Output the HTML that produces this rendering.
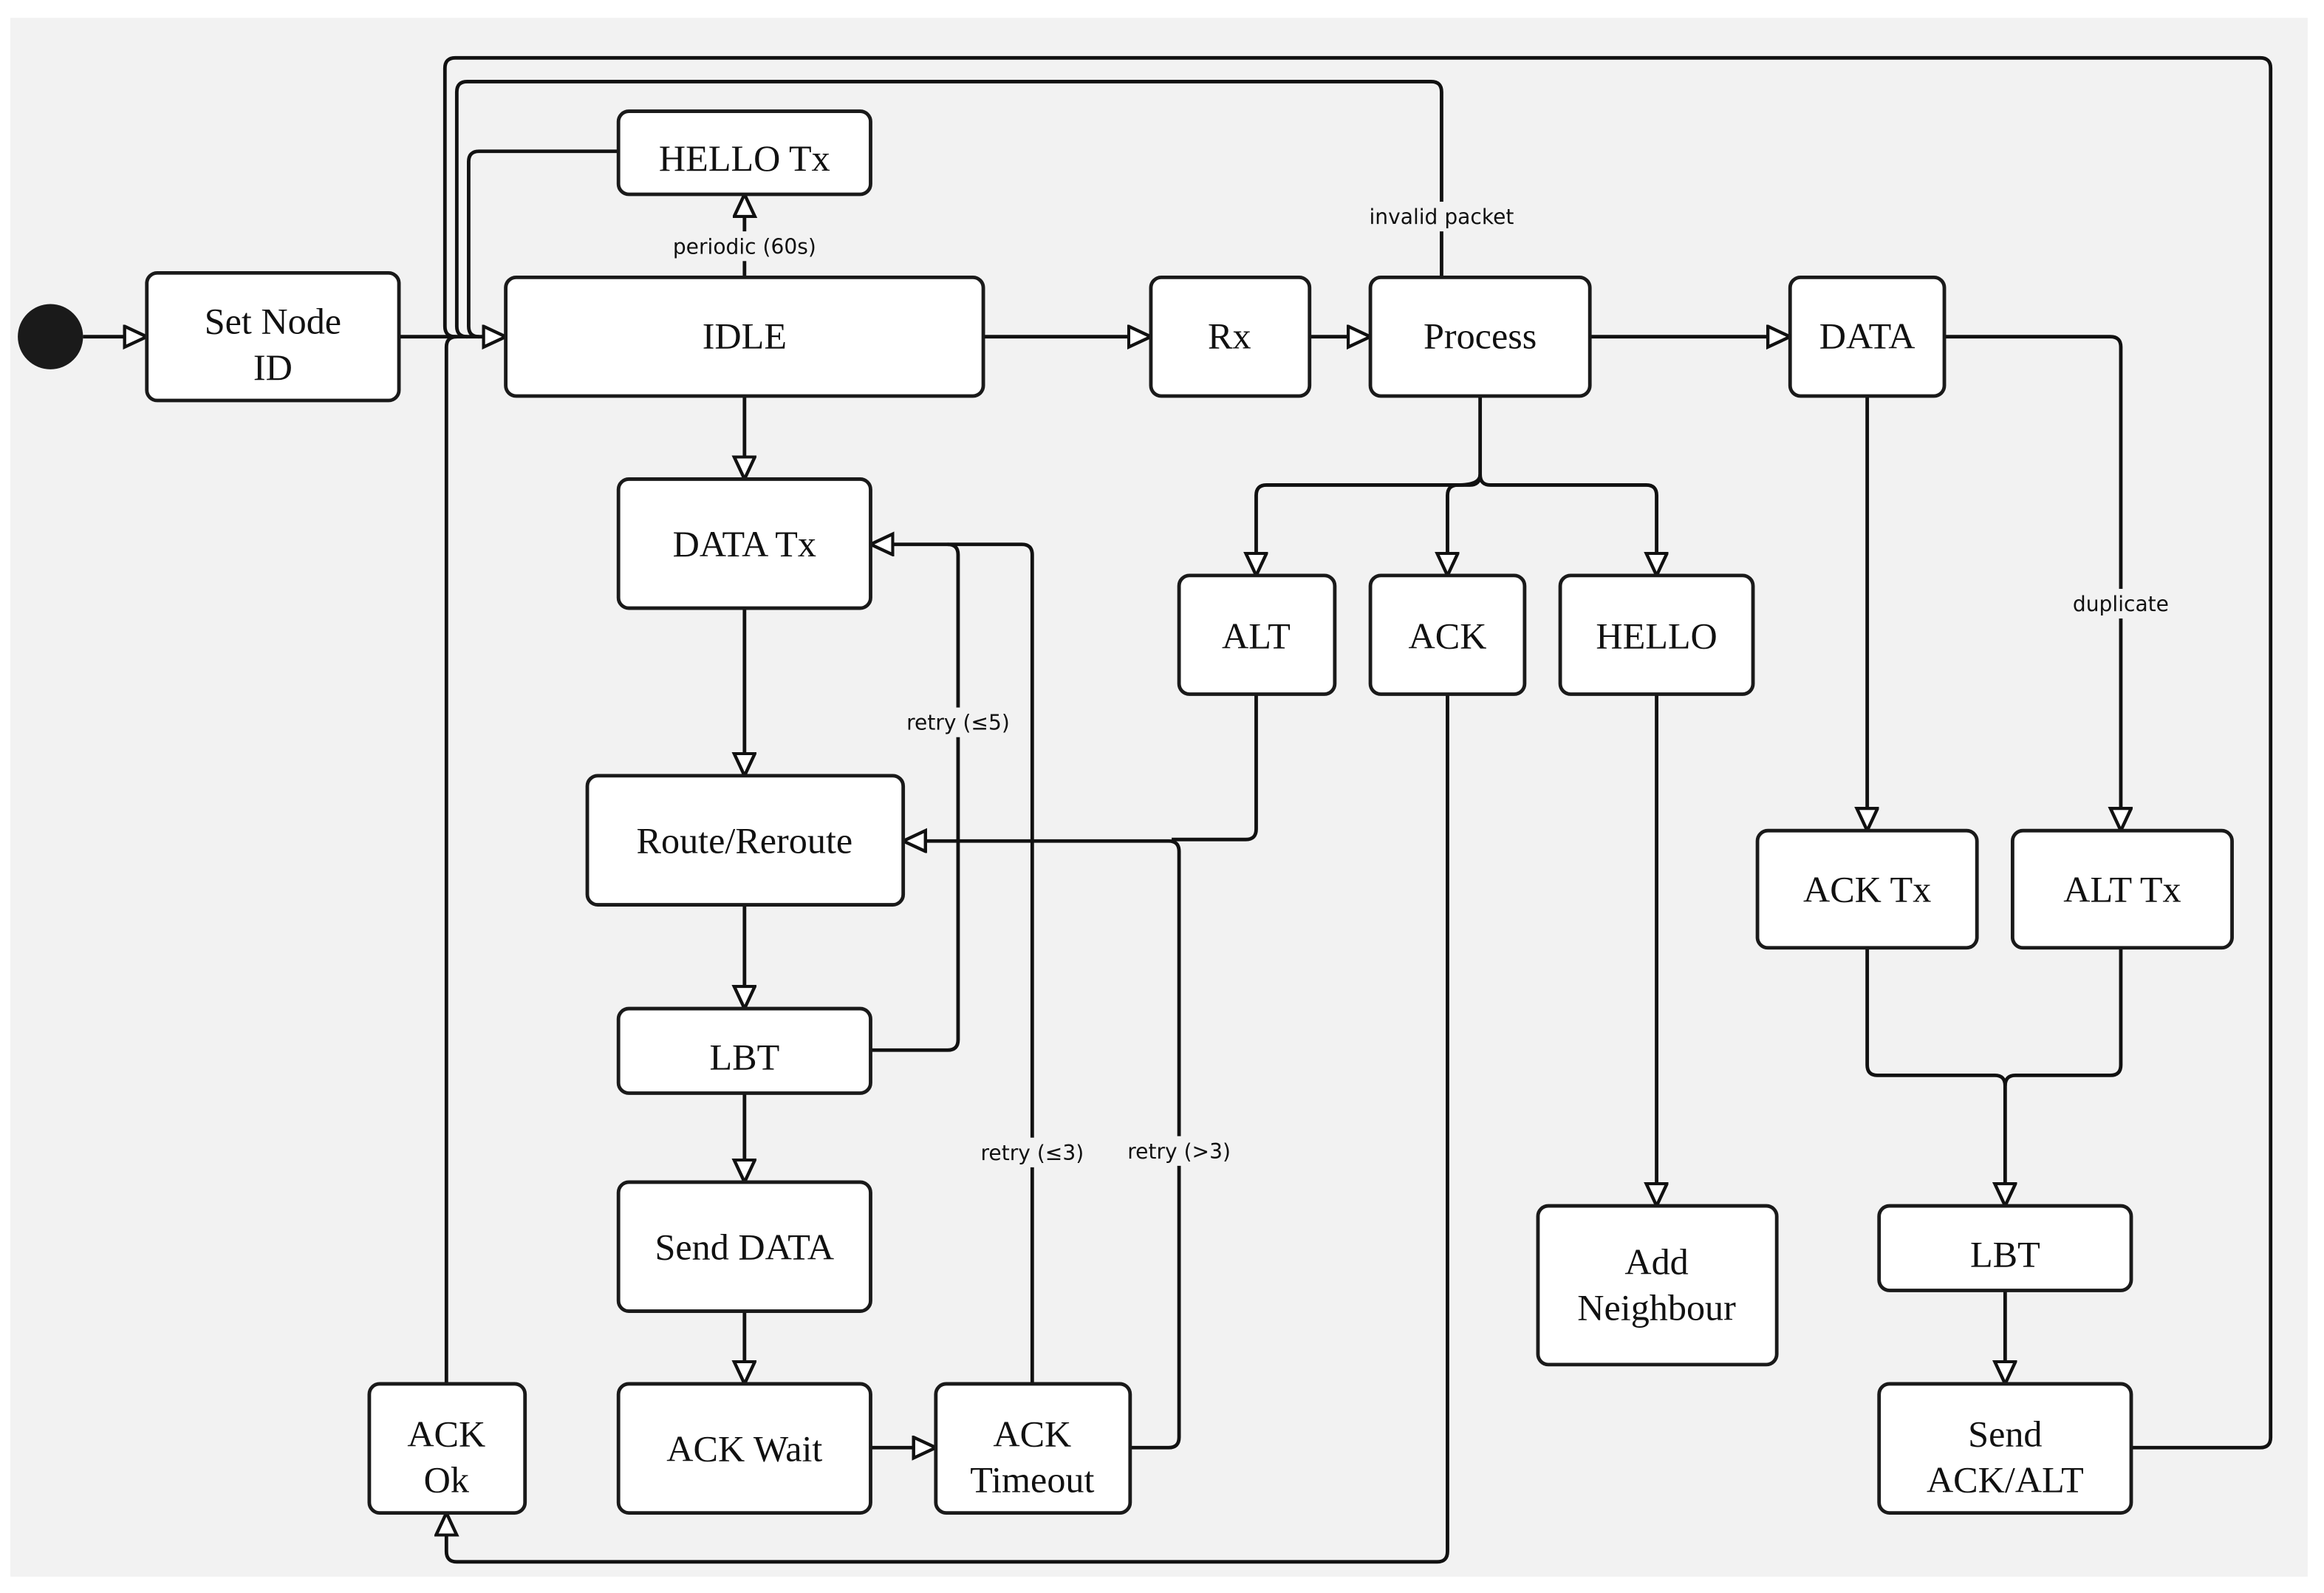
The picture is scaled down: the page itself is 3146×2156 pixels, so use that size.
<!DOCTYPE html>
<html><head><meta charset="utf-8"><style>
html,body{margin:0;padding:0;background:#fff}
svg{display:block}
.b{fill:#fff;stroke:#1a1a1a;stroke-width:2.4}
.l{fill:none;stroke:#111;stroke-width:2.4;stroke-linejoin:round}
.t{font-family:"Liberation Serif",serif;font-size:25px;fill:#111;text-anchor:middle}
.s{font-family:"DejaVu Sans","Liberation Sans",sans-serif;font-size:14px;fill:#111;text-anchor:middle}
.lb{fill:#f2f2f2}
</style></head><body>
<svg width="3146" height="2156" viewBox="0 0 1567 1074" preserveAspectRatio="none" xmlns="http://www.w3.org/2000/svg">
<defs>
<marker id="a" markerWidth="18" markerHeight="18" refX="16" refY="8" orient="auto" markerUnits="userSpaceOnUse">
<path d="M1,1 L16,8 L1,15 Z" fill="#fff" stroke="#111" stroke-width="2.2"/>
</marker>
</defs>
<rect x="7" y="12" width="1549" height="1051" fill="#f2f2f2"/>
<g class="l">
<path d="M56,227 H99" marker-end="url(#a)"/>
<path d="M269,227 H341" marker-end="url(#a)"/>
<path d="M1437,976 H1524 Q1531,976 1531,969 V46 Q1531,39 1524,39 H307 Q300,39 300,46 V220 Q300,227 307,227"/>
<path d="M972,187 V62 Q972,55 965,55 H315 Q308,55 308,62 V220 Q308,227 315,227"/>
<path d="M417,102 H323 Q316,102 316,109 V220 Q316,227 323,227"/>
<path d="M301,933 V234 Q301,227 308,227"/>
<path d="M502,187 V131" marker-end="url(#a)"/>
<path d="M502,267 V323" marker-end="url(#a)"/>
<path d="M663,227 H776" marker-end="url(#a)"/>
<path d="M883,227 H924" marker-end="url(#a)"/>
<path d="M1072,227 H1207" marker-end="url(#a)"/>
<path d="M998,267 V320 Q998,327 991,327 H854 Q847,327 847,334 V388" marker-end="url(#a)"/>
<path d="M998,320 Q998,327 983,327 Q976,327 976,334 V388" marker-end="url(#a)"/>
<path d="M998,320 Q998,327 1005,327 H1110 Q1117,327 1117,334 V388" marker-end="url(#a)"/>
<path d="M502,410 V523" marker-end="url(#a)"/>
<path d="M502,610 V680" marker-end="url(#a)"/>
<path d="M502,737 V797" marker-end="url(#a)"/>
<path d="M502,884 V933" marker-end="url(#a)"/>
<path d="M587,976 H631" marker-end="url(#a)"/>
<path d="M587,708 H639 Q646,708 646,701 V374 Q646,367 639,367"/>
<path d="M696,933 V374 Q696,367 689,367 H587" marker-end="url(#a)"/>
<path d="M762,976 H788 Q795,976 795,969 V574 Q795,567 788,567 H609" marker-end="url(#a)"/>
<path d="M847,468 V559 Q847,566 840,566 H790"/>
<path d="M976,468 V1046 Q976,1053 969,1053 H308 Q301,1053 301,1046 V1020" marker-end="url(#a)"/>
<path d="M1117,468 V813" marker-end="url(#a)"/>
<path d="M1259,267 V560" marker-end="url(#a)"/>
<path d="M1311,227 H1423 Q1430,227 1430,234 V560" marker-end="url(#a)"/>
<path d="M1259,639 V718 Q1259,725 1266,725 H1345 Q1352,725 1352,732 V813" marker-end="url(#a)"/>
<path d="M1430,639 V718 Q1430,725 1423,725 H1359 Q1352,725 1352,732"/>
<path d="M1352,870 V933" marker-end="url(#a)"/>
</g>
<rect class="lb" x="448" y="156" width="108" height="20"/>
<text class="s" x="502" y="171">periodic (60s)</text>
<rect class="lb" x="918" y="136" width="110" height="20"/>
<text class="s" x="972" y="151">invalid packet</text>
<rect class="lb" x="610" y="477" width="74" height="20"/>
<text class="s" x="646" y="492">retry (≤5)</text>
<rect class="lb" x="660" y="767" width="74" height="20"/>
<text class="s" x="696" y="782">retry (≤3)</text>
<rect class="lb" x="759" y="766" width="74" height="20"/>
<text class="s" x="795" y="781">retry (&gt;3)</text>
<rect class="lb" x="1393" y="397" width="74" height="20"/>
<text class="s" x="1430" y="412">duplicate</text>
<circle cx="34" cy="227" r="22" fill="#1a1a1a"/>
<rect class="b" x="99" y="184" width="170" height="86" rx="7"/>
<text class="t" x="184" y="225">Set Node</text><text class="t" x="184" y="256">ID</text>
<rect class="b" x="341" y="187" width="322" height="80" rx="7"/>
<text class="t" x="502" y="235">IDLE</text>
<rect class="b" x="417" y="75" width="170" height="56" rx="7"/>
<text class="t" x="502" y="115">HELLO Tx</text>
<rect class="b" x="776" y="187" width="107" height="80" rx="7"/>
<text class="t" x="829" y="235">Rx</text>
<rect class="b" x="924" y="187" width="148" height="80" rx="7"/>
<text class="t" x="998" y="235">Process</text>
<rect class="b" x="1207" y="187" width="104" height="80" rx="7"/>
<text class="t" x="1259" y="235">DATA</text>
<rect class="b" x="417" y="323" width="170" height="87" rx="7"/>
<text class="t" x="502" y="375">DATA Tx</text>
<rect class="b" x="396" y="523" width="213" height="87" rx="7"/>
<text class="t" x="502" y="575">Route/Reroute</text>
<rect class="b" x="417" y="680" width="170" height="57" rx="7"/>
<text class="t" x="502" y="721">LBT</text>
<rect class="b" x="417" y="797" width="170" height="87" rx="7"/>
<text class="t" x="502" y="849">Send DATA</text>
<rect class="b" x="417" y="933" width="170" height="87" rx="7"/>
<text class="t" x="502" y="985">ACK Wait</text>
<rect class="b" x="631" y="933" width="131" height="87" rx="7"/>
<text class="t" x="696" y="975">ACK</text><text class="t" x="696" y="1006">Timeout</text>
<rect class="b" x="249" y="933" width="105" height="87" rx="7"/>
<text class="t" x="301" y="975">ACK</text><text class="t" x="301" y="1006">Ok</text>
<rect class="b" x="795" y="388" width="105" height="80" rx="7"/>
<text class="t" x="847" y="437">ALT</text>
<rect class="b" x="924" y="388" width="104" height="80" rx="7"/>
<text class="t" x="976" y="437">ACK</text>
<rect class="b" x="1052" y="388" width="130" height="80" rx="7"/>
<text class="t" x="1117" y="437">HELLO</text>
<rect class="b" x="1037" y="813" width="161" height="107" rx="7"/>
<text class="t" x="1117" y="859">Add</text><text class="t" x="1117" y="890">Neighbour</text>
<rect class="b" x="1185" y="560" width="148" height="79" rx="7"/>
<text class="t" x="1259" y="608">ACK Tx</text>
<rect class="b" x="1357" y="560" width="148" height="79" rx="7"/>
<text class="t" x="1431" y="608">ALT Tx</text>
<rect class="b" x="1267" y="813" width="170" height="57" rx="7"/>
<text class="t" x="1352" y="854">LBT</text>
<rect class="b" x="1267" y="933" width="170" height="87" rx="7"/>
<text class="t" x="1352" y="975">Send</text><text class="t" x="1352" y="1006">ACK/ALT</text>
</svg>
</body></html>
